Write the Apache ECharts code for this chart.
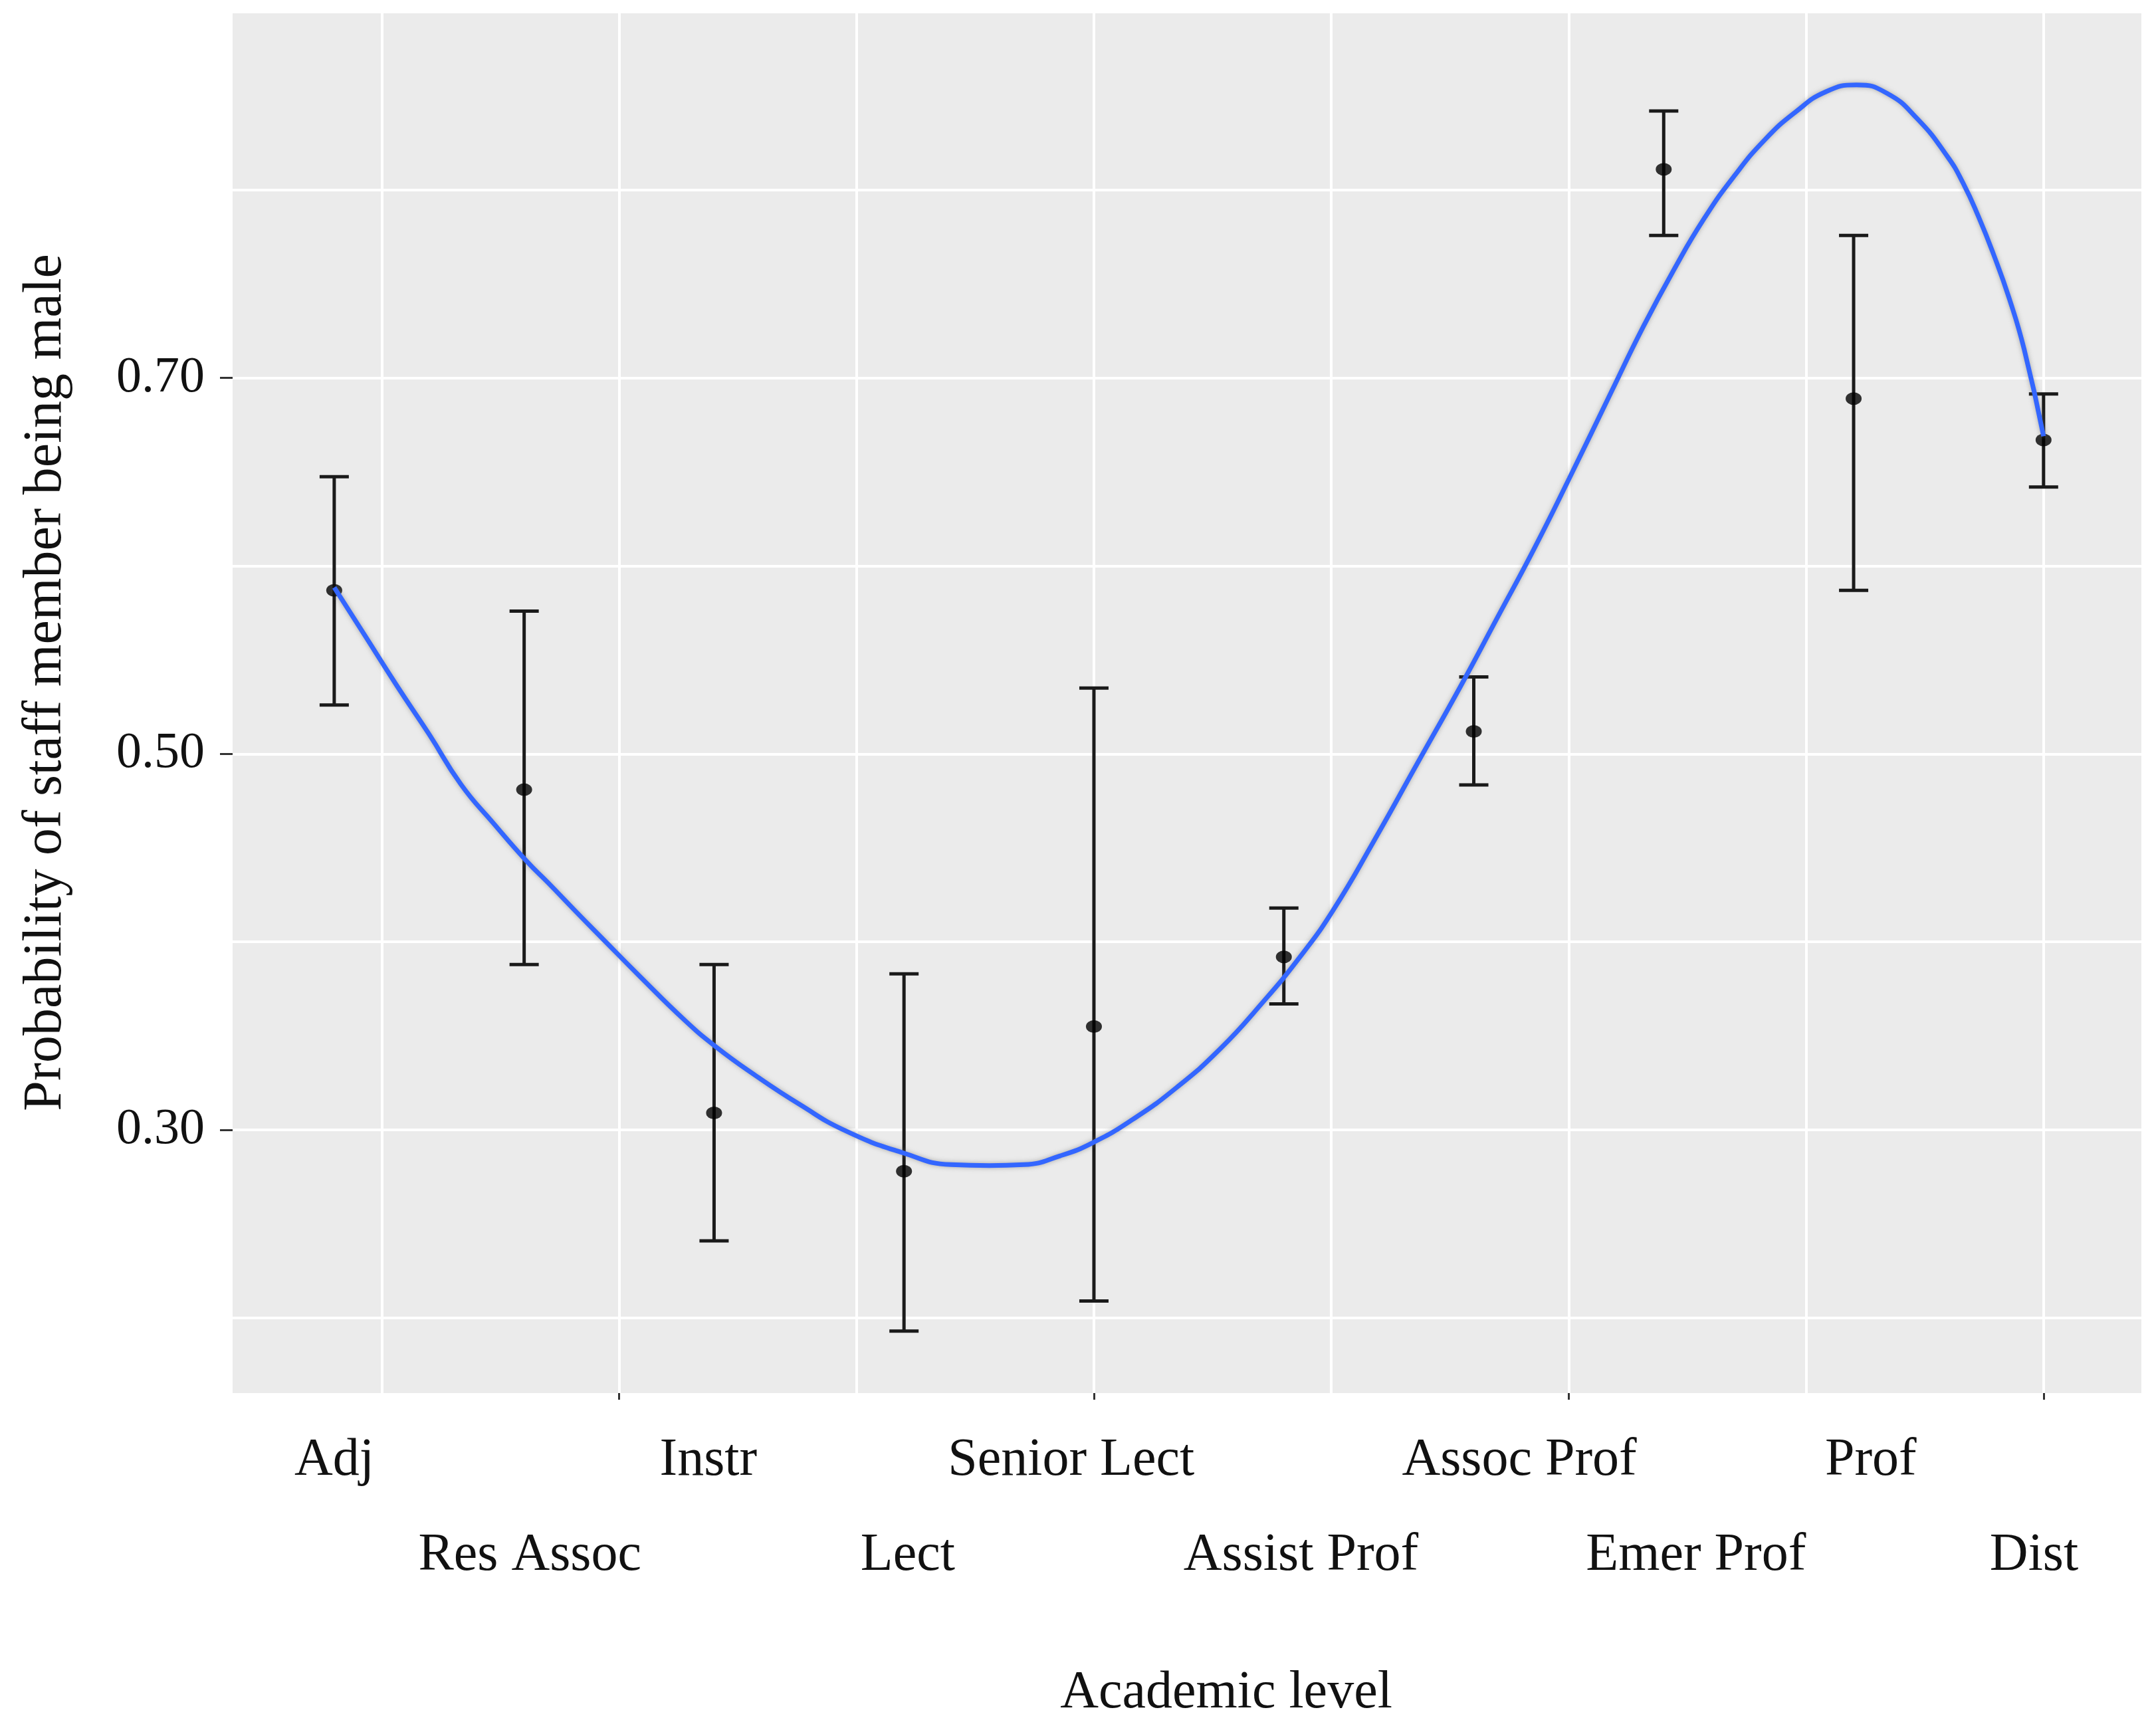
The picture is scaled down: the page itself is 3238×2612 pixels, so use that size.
<!DOCTYPE html>
<html>
<head>
<meta charset="utf-8">
<script src="https://cdn.jsdelivr.net/npm/echarts@6/dist/echarts.min.js"></script>
<style>
html,body{margin:0;padding:0;background:#ffffff;}
#chart{width:3238px;height:2612px;}
</style>
</head>
<body>
<div id="chart"></div>
<script>
// ---------------- data ----------------
const categories = ['Adj', 'Res Assoc', 'Instr', 'Lect', 'Senior Lect', 'Assist Prof', 'Assoc Prof', 'Emer Prof', 'Prof', 'Dist'];
const meanProb  = [0.587, 0.481, 0.309, 0.278, 0.355, 0.392, 0.512, 0.811, 0.689, 0.667];
const lowerCI   = [0.526, 0.388, 0.241, 0.193, 0.209, 0.367, 0.4835, 0.7758, 0.587, 0.642];
const upperCI   = [0.6475, 0.576, 0.388, 0.383, 0.535, 0.418, 0.541, 0.842, 0.7758, 0.6915];

// smoothed fit curve (position on the level scale, probability)
const fitX = [1.0, 1.162, 1.331, 1.50, 1.668, 1.837, 2.013, 2.126, 2.271, 2.415, 2.608, 2.849, 3.006, 3.21, 3.451, 3.692,
              3.994, 4.247, 4.45, 4.632, 4.822, 4.994, 5.205, 5.435, 5.666, 5.877, 6.088, 6.261, 6.472, 6.702, 6.932,
              7.124, 7.316, 7.502, 7.729, 7.890, 8.051, 8.211, 8.372, 8.533, 8.693, 8.854, 9.015, 9.175, 9.336,
              9.496, 9.577, 9.657, 9.737, 9.818, 9.898, 10.0];
const fitY = [0.5886, 0.5629, 0.5361, 0.5104, 0.4837, 0.4633, 0.4430, 0.4315, 0.4163, 0.4015, 0.3818, 0.3580, 0.3445, 0.3295, 0.3135, 0.2995,
              0.2878, 0.2815, 0.2810, 0.2815, 0.2862, 0.2932, 0.3056, 0.3225, 0.3432, 0.3665, 0.3924, 0.4171, 0.4533, 0.4948, 0.5363,
              0.5725, 0.6088, 0.6464, 0.6936, 0.7268, 0.7571, 0.7845, 0.8075, 0.8268, 0.8414, 0.8523, 0.8559, 0.8515, 0.8378,
              0.8175, 0.8035, 0.7859, 0.7657, 0.7427, 0.7152, 0.669];

const yTickLabels = [0.30, 0.50, 0.70];
const yGridValues = [0.2, 0.3, 0.4, 0.5, 0.6, 0.7, 0.8];
const xGridValues = [1.25, 2.5, 3.75, 5, 6.25, 7.5, 8.75, 10];
const xTickValues = [2.5, 5, 7.5, 10];
const xTitle = 'Academic level';
const yTitle = 'Probability of staff member being male';

// ---------------- layout / style ----------------
const labelAnchors = [1.0, 2.03, 2.97, 4.02, 4.88, 6.09, 7.24, 8.17, 9.09, 9.95];
const FONT = '"Liberation Serif", "Times New Roman", serif';
const TEXT = '#111111';

const levelX = categories.map((c, i) => i + 1);
const pointData = levelX.map((x, i) => [x, meanProb[i]]);
const barData = levelX.map((x, i) => [x, lowerCI[i], upperCI[i]]);
const fitData = fitX.map((x, i) => [x, fitY[i]]);

function labelFor(v) {
  let best = 0, bd = Infinity;
  labelAnchors.forEach((a, i) => { const d = Math.abs(a - v); if (d < bd) { bd = d; best = i; } });
  return best % 2 === 1 ? '\n' + categories[best] : categories[best];
}

const chart = echarts.init(document.getElementById('chart'), null, {renderer: 'canvas'});
const X_MIN = 0.465, X_MAX = 10.515, Y_MIN = 0.16, Y_MAX = 0.894;

chart.setOption({
  backgroundColor: '#ffffff',
  animation: false,
  grid: {left: 350, right: 16, top: 20, bottom: 516, backgroundColor: '#EBEBEB', show: true, borderWidth: 0, outerBoundsMode: 'none'},
  xAxis: [
    {
      type: 'value', min: X_MIN, max: X_MAX, position: 'bottom',
      axisLine: {show: false},
      axisTick: {show: true, customValues: xTickValues, length: 10, lineStyle: {color: '#333333', width: 3}},
      axisLabel: {
        customValues: labelAnchors, margin: 30, formatter: labelFor,
        fontFamily: FONT, fontSize: 80, color: TEXT, lineHeight: 143
      },
      splitLine: {show: false},
      name: xTitle, nameLocation: 'middle', nameGap: 412,
      nameTextStyle: {fontFamily: FONT, fontSize: 80, color: TEXT, padding: [0, 0, 0, 118]}
    },
    {
      type: 'value', min: X_MIN, max: X_MAX, position: 'bottom',
      axisLine: {show: false},
      axisTick: {show: false, customValues: xGridValues},
      axisLabel: {show: false},
      splitLine: {show: true, lineStyle: {color: '#FFFFFF', width: 4}}
    }
  ],
  yAxis: [
    {
      type: 'value', min: Y_MIN, max: Y_MAX,
      axisLine: {show: false},
      axisTick: {show: true, customValues: yTickLabels, length: 19, lineStyle: {color: '#333333', width: 3}},
      axisLabel: {
        customValues: yTickLabels, margin: 42, formatter: v => v.toFixed(2),
        fontFamily: FONT, fontSize: 76, color: TEXT
      },
      splitLine: {show: false},
      name: yTitle, nameLocation: 'middle', nameGap: 240,
      nameTextStyle: {fontFamily: FONT, fontSize: 82, color: TEXT, padding: [0, 0, 0, 62]}
    },
    {
      type: 'value', min: Y_MIN, max: Y_MAX,
      axisLine: {show: false},
      axisTick: {show: false, customValues: yGridValues},
      axisLabel: {show: false},
      splitLine: {show: true, lineStyle: {color: '#FFFFFF', width: 4}}
    }
  ],
  series: [
    {
      type: 'custom', name: 'CI', xAxisIndex: 0, yAxisIndex: 0,
      data: barData, encode: {x: 0, y: [1, 2]}, z: 3,
      renderItem: function (params, api) {
        const x = api.value(0);
        const pLo = api.coord([x, api.value(1)]);
        const pHi = api.coord([x, api.value(2)]);
        const cap = 22;
        const st = {stroke: '#1a1a1a', lineWidth: 5};
        return {
          type: 'group',
          children: [
            {type: 'line', shape: {x1: pLo[0], y1: pLo[1], x2: pHi[0], y2: pHi[1]}, style: st},
            {type: 'line', shape: {x1: pHi[0] - cap, y1: pHi[1], x2: pHi[0] + cap, y2: pHi[1]}, style: st},
            {type: 'line', shape: {x1: pLo[0] - cap, y1: pLo[1], x2: pLo[0] + cap, y2: pLo[1]}, style: st}
          ]
        };
      }
    },
    {
      type: 'scatter', name: 'mean', xAxisIndex: 0, yAxisIndex: 0,
      data: pointData, symbol: 'circle', symbolSize: [24, 19], z: 4,
      itemStyle: {color: '#000000'}
    },
    {
      type: 'line', name: 'fit', xAxisIndex: 0, yAxisIndex: 0,
      data: fitData, smooth: 0.5, showSymbol: false, z: 5,
      lineStyle: {color: '#3366FF', width: 7, shadowColor: 'rgba(110,110,110,0.55)', shadowBlur: 7}
    }
  ]
});
</script>
</body>
</html>
